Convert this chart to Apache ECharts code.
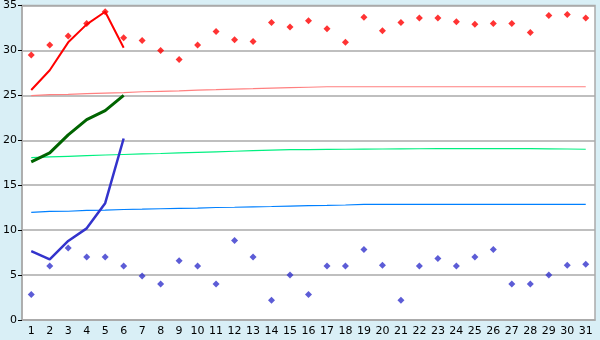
<!DOCTYPE html>
<html><head><meta charset="utf-8">
<script src="https://cdn.jsdelivr.net/npm/echarts@6/dist/echarts.min.js"></script>
<style>html,body{margin:0;padding:0;background:#d9eff6;}#c{width:600px;height:340px;}</style>
</head><body><div id="c"></div>
<script>
const days = ["1","2","3","4","5","6","7","8","9","10","11","12","13","14","15","16","17","18","19","20","21","22","23","24","25","26","27","28","29","30","31"];
const yTicks = [0,5,10,15,20,25,30,35];
const redPoints = [29.5,30.6,31.6,33.0,34.3,31.4,31.1,30.0,29.0,30.6,32.1,31.2,31.0,33.1,32.6,33.3,32.4,30.9,33.7,32.2,33.1,33.6,33.6,33.2,32.9,33.0,33.0,32.0,33.9,34.0,33.6];
const bluePoints = [2.85,6.0,8.0,7.0,7.0,6.0,4.9,4.0,6.6,6.0,4.0,8.85,7.0,2.2,5.0,2.85,6.0,6.0,7.85,6.1,2.2,6.0,6.85,6.0,7.0,7.85,4.0,4.0,5.0,6.1,6.2];
const redLine = [25.6,27.8,30.9,32.9,34.3,30.3];
const greenLine = [17.6,18.6,20.6,22.3,23.3,25.0];
const blueLine = [7.67,6.74,8.8,10.2,13.0,20.2];
const pinkTrend = [24.97,25.08,25.1,25.19,25.25,25.3,25.4,25.45,25.5,25.58,25.63,25.7,25.74,25.8,25.85,25.9,25.96,25.96,25.96,25.96,25.96,25.96,25.96,25.96,25.96,25.96,25.96,25.96,25.96,25.96,25.96];
const greenTrend = [18.07,18.15,18.22,18.3,18.36,18.42,18.48,18.53,18.6,18.66,18.72,18.78,18.84,18.9,18.95,18.97,18.98,19.0,19.02,19.03,19.05,19.06,19.07,19.07,19.07,19.07,19.07,19.07,19.05,19.03,19.0];
const blueTrend = [11.97,12.08,12.1,12.19,12.22,12.3,12.33,12.38,12.42,12.46,12.52,12.55,12.6,12.63,12.68,12.72,12.75,12.8,12.86,12.86,12.86,12.86,12.86,12.86,12.86,12.86,12.86,12.86,12.86,12.86,12.86];

const chart = echarts.init(document.getElementById('c'), null, {renderer:'canvas'});
const font = {fontFamily:'DejaVu Sans', fontSize:11, color:'#000'};
function line(data, color, width, z){
  return {type:'line', data:data, symbol:'none', lineStyle:{color:color, width:width}, itemStyle:{color:color}, z:z, silent:true, animation:false};
}
chart.setOption({
  animation:false,
  backgroundColor:'#d9eff6',
  grid:{left:20, right:5, top:5, bottom:20, show:true, backgroundColor:'#ffffff', borderColor:'#aaaaaa', borderWidth:1.5},
  xAxis:{type:'category', data:days, boundaryGap:true,
    axisLine:{lineStyle:{color:'#aaaaaa', width:1.5}},
    axisTick:{alignWithLabel:true, length:5, lineStyle:{color:'#000'}},
    axisLabel:Object.assign({margin:6, interval:0}, font),
    splitLine:{show:false}},
  yAxis:{type:'value', min:0, max:35, interval:5,
    axisLine:{show:true, lineStyle:{color:'#aaaaaa', width:1.5}},
    axisTick:{show:true, length:4, lineStyle:{color:'#000'}},
    axisLabel:Object.assign({margin:5, formatter:v=>yTicks.includes(v)?String(v):''}, font),
    splitLine:{lineStyle:{color:'#aaaaaa', width:1.5}}},
  series:[
    line(pinkTrend,'#ff8080',1.2,2),
    line(greenTrend,'#00f080',1.2,2),
    line(blueTrend,'#0080ff',1.2,2),
    line(redLine,'#ff0000',2,3),
    line(greenLine,'#006400',3,3),
    line(blueLine,'#3333cc',2.5,3),
    {type:'scatter', data:redPoints, symbol:'diamond', symbolSize:7, itemStyle:{color:'#ff0000'}, z:4},
    {type:'scatter', data:bluePoints, symbol:'diamond', symbolSize:7, itemStyle:{color:'#3333cc'}, z:4}
  ]
});
</script></body></html>
